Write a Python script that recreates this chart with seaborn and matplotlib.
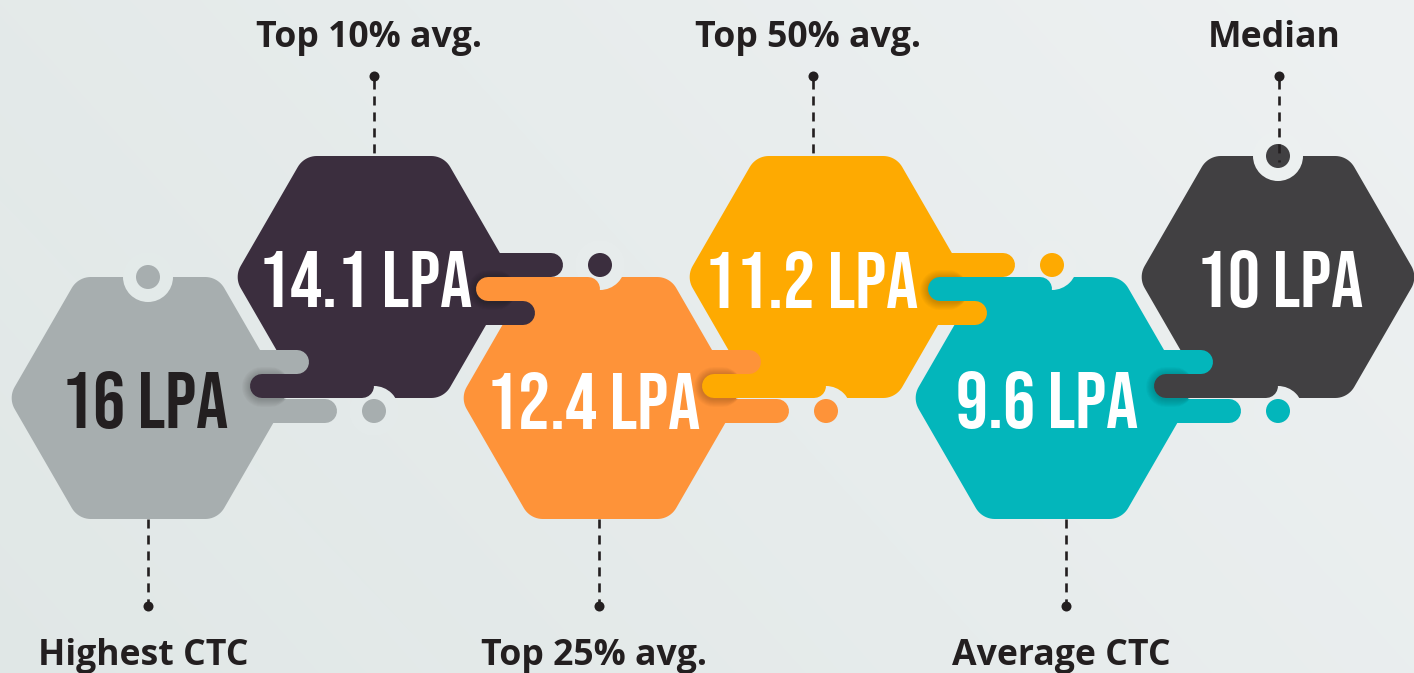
import numpy as np
import pandas as pd
import seaborn as sns
import matplotlib.pyplot as plt
from matplotlib import font_manager
from matplotlib.patches import Polygon, Circle

# chart content
labels = ["Highest CTC", "Top 10% avg.", "Top 25% avg.", "Top 50% avg.", "Average CTC", "Median"]
values = [16, 14.1, 12.4, 11.2, 9.6, 10]
unit = "LPA"
colors = ["#a7aeaf", "#3b2e3e", "#fe9339", "#feaa01", "#03b6bb", "#414042"]
text_colors = ["#231f20", "white", "white", "white", "white", "white"]
ink = "#231f20"

sns.set_theme(style="white")
plt.rcParams["lines.scale_dashes"] = False

installed = {f.name for f in font_manager.fontManager.ttflist}
num_font = next((f for f in ["Bebas Neue", "Oswald", "Roboto Condensed", "Liberation Sans Narrow",
                             "DejaVu Sans Condensed", "Roboto"] if f in installed), "DejaVu Sans")
lab_font = next((f for f in ["Open Sans", "Lato", "Noto Sans"] if f in installed), "DejaVu Sans")

W, H = 1414, 673
fig = plt.figure(figsize=(W / 100, H / 100), dpi=100)
ax = fig.add_axes([0, 0, 1, 1])
ax.set_xlim(0, W)
ax.set_ylim(H, 0)
ax.axis("off")

# soft background
yy, xx = np.mgrid[0:H, 0:W]
t = 0.7 * xx / W + 0.3 * (1 - yy / H)
t = t + 0.04 * ((xx - 0.95 * yy + 190) < 0)
c0 = np.array([0.878, 0.906, 0.902])
c1 = np.array([0.933, 0.945, 0.949])
bg = c0 + np.clip(t, 0, 1)[..., None] * (c1 - c0)
ax.imshow(bg, extent=[0, W, H, 0], zorder=0, aspect="auto")

# layout (pixels)
step = 226
x0 = 148
cx = [x0 + step * i for i in range(len(values))]
y_low, y_high = 398, 277
cy = [y_low if i % 2 == 0 else y_high for i in range(len(values))]
half_h = 121
R = half_h / np.sin(np.radians(60))
corner = 22
notch_r, dot_r, pill_w = 25, 12, 24
px2pt = 0.72
text_dx = [-3, -9, -7, -15, -5, 2]
leader_dx = [0, 0, -1, -13, 14, 1]
dash = (0, (6.5, 5.0))


def hex_points(x, y, R, r, n=12):
    ang = np.radians(np.arange(0, 360, 60))
    V = np.c_[x + R * np.cos(ang), y + R * np.sin(ang)]
    ctr = np.array([x, y])
    pts = []
    d = r / np.tan(np.radians(60))
    for k in range(6):
        v, p, q = V[k], V[k - 1], V[(k + 1) % 6]
        t1 = v + d * (p - v) / np.linalg.norm(p - v)
        t2 = v + d * (q - v) / np.linalg.norm(q - v)
        c = v + (r / np.sin(np.radians(60))) * (ctr - v) / R
        a1 = np.arctan2(t1[1] - c[1], t1[0] - c[0])
        a2 = np.arctan2(t2[1] - c[1], t2[0] - c[0])
        da = (a2 - a1 + np.pi) % (2 * np.pi) - np.pi
        a = a1 + da * np.linspace(0, 1, n)
        pts.append(np.c_[c[0] + r * np.cos(a), c[1] + r * np.sin(a)])
    return np.vstack(pts)


def pill(xa, xb, y, color, z, lw=pill_w, alpha=1.0):
    # xa, xb are the outer ends including round caps
    ax.plot([xa + lw / 2, xb - lw / 2], [y, y], color=color, lw=lw * px2pt,
            solid_capstyle="round", zorder=z, alpha=alpha)


for i in range(len(values)):
    ax.add_patch(Polygon(hex_points(cx[i], cy[i], R, corner), closed=True,
                         facecolor=colors[i], edgecolor="none", zorder=2))

dots = []
# own notches at the two ends
dots.append((cx[0], cy[0] - half_h, colors[0]))
dots.append((cx[-1], cy[-1] - half_h, colors[-1]))

for i in range(len(values) - 1):
    a, b = i, i + 1
    if cy[a] == y_low:
        edge = cy[b] + half_h
        y_mid = edge - pill_w / 2
        y_long = edge + dot_r + 1
        y_short = y_mid - pill_w
    else:
        edge = cy[b] - half_h
        y_mid = edge + pill_w / 2
        y_long = edge - dot_r
        y_short = y_mid + pill_w
    pill(cx[a], cx[a] + 189, y_long, colors[a], 4)
    pill(cx[a], cx[a] + 161, y_short, colors[a], 4)
    xl = cx[b] - 124
    for k in range(1, 9):
        pill(xl - k, xl + 40, y_mid + 1, "black", 5, lw=pill_w + 2 * k, alpha=0.025)
    pill(xl, cx[b], y_mid, colors[b], 6)
    dots.append((cx[b], y_long, colors[a]))

for (x, y, c) in dots:
    ax.add_patch(Circle((x, y), notch_r, facecolor=bg[int(y), int(x)], edgecolor="none", zorder=3))

dot_df = pd.DataFrame(dots, columns=["x", "y", "c"])
sns.scatterplot(data=dot_df, x="x", y="y", hue="c", palette={c: c for c in dot_df["c"]},
                s=(2 * dot_r * px2pt) ** 2, linewidth=0, legend=False, ax=ax, zorder=7)

# value text, size fitted to the reference width of "14.1 LPA"
renderer = fig.canvas.get_renderer()
probe = ax.text(0, 0, f"{values[1]:g} {unit}", fontsize=40, family=num_font, weight="bold")
w = probe.get_window_extent(renderer).width
probe.remove()
num_size = min(40 * 214 / w, 58)

probe = ax.text(0, 0, labels[1], fontsize=26, family=lab_font, weight="bold")
w = probe.get_window_extent(renderer).width
probe.remove()
lab_size = min(26 * 226 / w, 27)

for i, v in enumerate(values):
    ax.text(cx[i] + text_dx[i], cy[i] + 2, f"{v:g} {unit}", ha="center", va="center",
            fontsize=num_size, family=num_font, weight="bold", color=text_colors[i], zorder=8)

# leaders and labels
lead = []
for i in range(len(values)):
    lx = cx[i] + leader_dx[i]
    if cy[i] == y_high:
        y_end = cy[i] - half_h + (6 if i == len(values) - 1 else 2)
        ax.plot([lx, lx], [80, y_end], color=ink, lw=1.9, ls=dash, zorder=9)
        lead.append((lx, 76))
        ax.text(lx - 5, 47, labels[i], ha="center", va="baseline", fontsize=lab_size,
                family=lab_font, weight="bold", color=ink, zorder=9)
    else:
        ax.plot([lx, lx], [cy[i] + half_h, 602], color=ink, lw=1.9, ls=dash, zorder=9)
        lead.append((lx, 606))
        ax.text(lx - 5, 665, labels[i], ha="center", va="baseline", fontsize=lab_size,
                family=lab_font, weight="bold", color=ink, zorder=9)

lead_df = pd.DataFrame(lead, columns=["x", "y"])
sns.scatterplot(data=lead_df, x="x", y="y", color=ink, s=52, linewidth=0, legend=False,
                ax=ax, zorder=10)

ax.set_xlim(0, W)
ax.set_ylim(H, 0)
ax.axis("off")
fig.savefig("out.png", dpi=100)
